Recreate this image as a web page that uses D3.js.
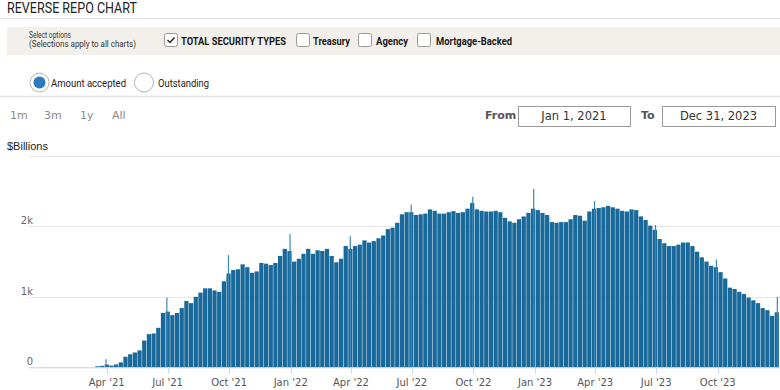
<!DOCTYPE html>
<html>
<head>
<meta charset="utf-8">
<script src="https://cdn.jsdelivr.net/npm/d3@7"></script>
<style>
  body { margin: 0; background: #fff; }
  svg { display: block; }
</style>
</head>
<body>
<script>
// weekly amount accepted ($ billions), one value per week starting Mon Jan 4 2021
const weekValues = [
  0, 0, 0, 0, 0, 0, 0, 0, 0, 0, 15, 20,
  40, 25, 40, 70, 150, 185, 210, 240, 380, 470, 480, 560,
  770, 790, 740, 770, 840, 940, 910, 1000, 1060, 1120, 1120, 1090,
  1070, 1220, 1330, 1380, 1390, 1460, 1420, 1340, 1360, 1480, 1470, 1450,
  1480, 1580, 1680, 1650, 1500, 1540, 1610, 1680, 1610, 1660, 1650, 1680,
  1580, 1490, 1540, 1720, 1680, 1720, 1740, 1800, 1770, 1790, 1830, 1870,
  1960, 1980, 2050, 2170, 2200, 2200, 2160, 2170, 2180, 2240, 2220, 2180,
  2180, 2200, 2215, 2190, 2200, 2250, 2330, 2240, 2220, 2210, 2210, 2220,
  2200, 2120, 2070, 2050, 2100, 2140, 2190, 2250, 2230, 2190, 2160, 2060,
  2050, 2060, 2060, 2100, 2160, 2150, 2080, 2210, 2250, 2260, 2270, 2290,
  2270, 2250, 2220, 2210, 2240, 2230, 2140, 2090, 2010, 1950, 1820, 1760,
  1720, 1720, 1740, 1770, 1770, 1720, 1640, 1560, 1500, 1440, 1420, 1350,
  1260, 1130, 1110, 1070, 1040, 990, 950, 910, 840, 810, 730, 780
]

// quarter-end spikes
const spikeDates = ["2021-03-31", "2021-06-30", "2021-09-30", "2021-12-31", "2022-03-31", "2022-06-30",
                    "2022-09-30", "2022-12-30", "2023-03-31", "2023-06-30", "2023-09-29", "2023-12-29"]
const spikeValues = [115, 990, 1590, 1890, 1860, 2310, 2420, 2530, 2360, 2020, 1530, 1000]

const tickDates = ["2021-04-01", "2021-07-01", "2021-10-01", "2022-01-01", "2022-04-01", "2022-07-01",
                   "2022-10-01", "2023-01-01", "2023-04-01", "2023-07-01", "2023-10-01"]
const tickLabels = ["Apr '21", "Jul '21", "Oct '21", "Jan '22", "Apr '22", "Jul '22",
                    "Oct '22", "Jan '23", "Apr '23", "Jul '23", "Oct '23"]
const yTicks = [0, 1000, 2000, 3000]
const yTickLabels = ["0", "1k", "2k", ""]

const width = 780
const height = 390

const svg = d3.select('body').append('svg')
  .attr('width', width)
  .attr('height', height)

const parse = d3.utcParse("%Y-%m-%d")
const weekStarts = d3.utcMonday.range(parse("2021-01-04"), parse("2024-01-01"))

// ---- header ----
svg.append("text")
  .attr("x", 7).attr("y", 13)
  .attr("textLength", 130).attr("lengthAdjust", "spacingAndGlyphs")
  .style("font-family", "Roboto, sans-serif").style("font-size", "14px")
  .style("fill", "#222")
  .text("REVERSE REPO CHART")

svg.append("line")
  .attr("x1", 0).attr("x2", width).attr("y1", 18.5).attr("y2", 18.5)
  .style("stroke", "#e2e2e2")

svg.append("rect")
  .attr("x", 7).attr("y", 27).attr("width", 773).attr("height", 28)
  .style("fill", "#f3f0eb")

svg.append("text")
  .attr("x", 29).attr("y", 38)
  .attr("textLength", 42).attr("lengthAdjust", "spacingAndGlyphs")
  .style("font-family", "Roboto, sans-serif").style("font-size", "9px").style("fill", "#333")
  .text("Select options")
svg.append("text")
  .attr("x", 29).attr("y", 47)
  .attr("textLength", 107).attr("lengthAdjust", "spacingAndGlyphs")
  .style("font-family", "Roboto, sans-serif").style("font-size", "9px").style("fill", "#333")
  .text("(Selections apply to all charts)")

const checks = [
  { x: 164, label: "TOTAL SECURITY TYPES", lx: 181, lw: 105, on: true },
  { x: 296, label: "Treasury", lx: 313, lw: 37, on: false },
  { x: 358, label: "Agency", lx: 376, lw: 32, on: false },
  { x: 417, label: "Mortgage-Backed", lx: 436, lw: 76, on: false }
]

const cb = svg.selectAll("g.cb")
  .data(checks)
  .enter().append("g")
    .attr("class", "cb")

cb.append("rect")
  .attr("x", d => d.x + 0.5).attr("y", 33.5)
  .attr("width", 13).attr("height", 13).attr("rx", 2)
  .style("fill", "#fff").style("stroke", "#9a9a9a")

cb.filter(d => d.on).append("path")
  .attr("d", d => "M" + (d.x + 3.5) + ",40 L" + (d.x + 6) + ",42.5 L" + (d.x + 10.5) + ",37.5")
  .style("fill", "none").style("stroke", "#222").style("stroke-width", 1.4)

cb.append("text")
  .attr("x", d => d.lx).attr("y", 44.5)
  .attr("textLength", d => d.lw).attr("lengthAdjust", "spacingAndGlyphs")
  .style("font-family", "Roboto, sans-serif").style("font-size", "11px")
  .style("font-weight", "bold").style("fill", "#1a1a1a")
  .text(d => d.label)

// ---- radio buttons ----
const radios = [
  { cx: 39.5, label: "Amount accepted", lx: 51, lw: 75, on: true },
  { cx: 144, label: "Outstanding", lx: 158, lw: 51, on: false }
]

const rb = svg.selectAll("g.rb")
  .data(radios)
  .enter().append("g")
    .attr("class", "rb")

rb.append("circle")
  .attr("cx", d => d.cx).attr("cy", 82.5).attr("r", 9.5)
  .style("fill", "#fff").style("stroke", "#b5b5b5")

rb.filter(d => d.on).append("circle")
  .attr("cx", d => d.cx).attr("cy", 82.5).attr("r", 6)
  .style("fill", "#2b7cbf")

rb.append("text")
  .attr("x", d => d.lx).attr("y", 86.5)
  .attr("textLength", d => d.lw).attr("lengthAdjust", "spacingAndGlyphs")
  .style("font-family", "Roboto, sans-serif").style("font-size", "11.5px").style("fill", "#222")
  .text(d => d.label)

svg.append("line")
  .attr("x1", 0).attr("x2", width).attr("y1", 96.5).attr("y2", 96.5)
  .style("stroke", "#e2e2e2").style("stroke-width", 1.5)

// ---- range selector ----
const ranges = [{ t: "1m", x: 10 }, { t: "3m", x: 44 }, { t: "1y", x: 80 }, { t: "All", x: 112 }]
svg.selectAll("text.range")
  .data(ranges)
  .enter().append("text")
    .attr("class", "range")
    .attr("x", d => d.x).attr("y", 118.5)
    .style("font-family", "'DejaVu Sans', sans-serif").style("font-size", "11px")
    .style("fill", "#8a8a8a")
    .text(d => d.t)

svg.append("text")
  .attr("x", 485).attr("y", 119)
  .style("font-family", "'DejaVu Sans', sans-serif").style("font-size", "11px")
  .style("font-weight", "bold").style("fill", "#555")
  .text("From")
svg.append("text")
  .attr("x", 641).attr("y", 119)
  .style("font-family", "'DejaVu Sans', sans-serif").style("font-size", "11px")
  .style("font-weight", "bold").style("fill", "#555")
  .text("To")

const boxes = [{ x: 518, w: 112, t: "Jan 1, 2021" }, { x: 662, w: 113, t: "Dec 31, 2023" }]
svg.selectAll("rect.dbox")
  .data(boxes)
  .enter().append("rect")
    .attr("class", "dbox")
    .attr("x", d => d.x + 0.5).attr("y", 106.5)
    .attr("width", d => d.w).attr("height", 20)
    .style("fill", "#fff").style("stroke", "#9a9a9a")
svg.selectAll("text.dtext")
  .data(boxes)
  .enter().append("text")
    .attr("class", "dtext")
    .attr("x", d => d.x + d.w / 2).attr("y", 120)
    .attr("text-anchor", "middle")
    .style("font-family", "'DejaVu Sans', sans-serif").style("font-size", "11.5px")
    .style("fill", "#333")
    .text(d => d.t)

// ---- chart ----
const x = d3.scaleUtc()
  .domain([parse("2020-12-06"), parse("2024-01-02")])
  .range([29, 780])

const y = d3.scaleLinear()
  .domain([0, 3000])
  .range([367.3, 155.8])

svg.selectAll("line.grid")
  .data(yTicks)
  .enter().append("line")
    .attr("class", "grid")
    .attr("x1", 29).attr("x2", width)
    .attr("y1", d => Math.round(y(d)) + 0.5).attr("y2", d => Math.round(y(d)) + 0.5)
    .style("stroke", "#e6e6e6")

svg.selectAll("text.ylab")
  .data(yTicks)
  .enter().append("text")
    .attr("class", "ylab")
    .attr("x", 33).attr("y", d => y(d) - 2)
    .attr("text-anchor", "end")
    .style("font-family", "'DejaVu Sans', sans-serif").style("font-size", "10px")
    .style("fill", "#666")
    .text((d, i) => yTickLabels[i])

svg.append("text")
  .attr("x", 7).attr("y", 149.5)
  .style("font-family", "'Liberation Sans', Arial, sans-serif").style("font-size", "11px")
  .style("fill", "#222")
  .text("$Billions")

const bars = svg.append("g").attr("class", "bars")

// bars nearly fill the week, leaving a faint gap for the weekend
bars.selectAll("rect.week")
  .data(weekValues)
  .enter().append("rect")
    .attr("class", "week")
    .attr("x", (d, i) => x(weekStarts[i]))
    .attr("width", (d, i) => x(d3.utcHour.offset(weekStarts[i], 6 * 24 + 8)) - x(weekStarts[i]))
    .attr("y", d => y(d))
    .attr("height", d => y(0) - y(d))
    .style("fill", "#19699b")

bars.selectAll("rect.spike")
  .data(spikeValues)
  .enter().append("rect")
    .attr("class", "spike")
    .attr("x", (d, i) => x(parse(spikeDates[i])) - 0.6)
    .attr("width", 1.2)
    .attr("y", d => y(d))
    .attr("height", d => y(0) - y(d))
    .style("fill", "#3a88bb")

// x axis
svg.append("line")
  .attr("x1", 29).attr("x2", width).attr("y1", 367.8).attr("y2", 367.8)
  .style("stroke", "#ccd6eb")

svg.selectAll("line.xtick")
  .data(tickDates)
  .enter().append("line")
    .attr("class", "xtick")
    .attr("x1", d => Math.round(x(parse(d))) + 0.5).attr("x2", d => Math.round(x(parse(d))) + 0.5)
    .attr("y1", 367).attr("y2", 374)
    .style("stroke", "#ccd6eb")

svg.selectAll("text.xlab")
  .data(tickDates)
  .enter().append("text")
    .attr("class", "xlab")
    .attr("x", d => x(parse(d)))
    .attr("y", 385.5)
    .attr("text-anchor", "middle")
    .style("font-family", "'DejaVu Sans', sans-serif").style("font-size", "10px")
    .style("fill", "#555")
    .text((d, i) => tickLabels[i])
</script>
</body>
</html>
